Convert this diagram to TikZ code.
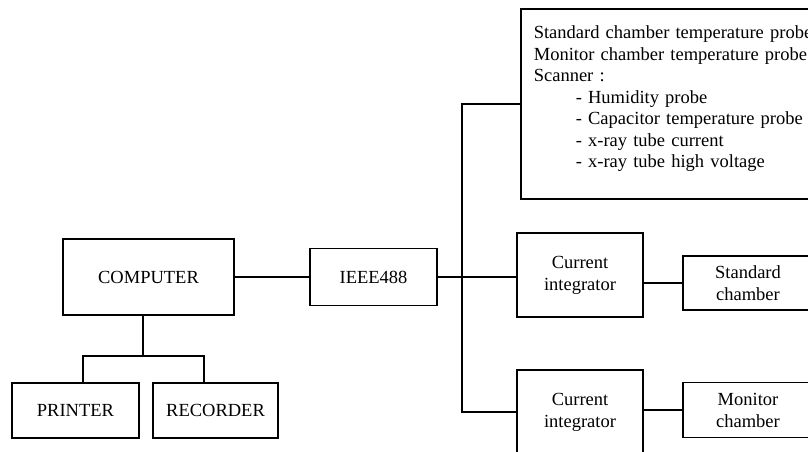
\documentclass[tikz,border=0pt]{standalone}
\usepackage{fontspec}
\setmainfont{Liberation Serif}
\begin{document}
\begin{tikzpicture}[x=1pt,y=-1pt,line width=1.6pt,
  blok/.style={draw,rectangle,inner sep=0pt,align=center,font=\fontsize{18.5pt}{22pt}\selectfont}]
\useasboundingbox (0,0) rectangle (808,452);
\clip (0,0) rectangle (808,452);
\node[blok,minimum width=171pt,minimum height=76pt] (comp) at (148.5,277) {COMPUTER};
\node[blok,minimum width=127pt,minimum height=57pt] (ieee) at (373.5,277) {IEEE488};
\node[blok,minimum width=127pt,minimum height=55pt] (printer) at (75.5,410.5) {PRINTER};
\node[blok,minimum width=125pt,minimum height=55pt] (recorder) at (215.5,410.5) {RECORDER};
\node[blok,anchor=west,align=left,text width=300pt,inner xsep=13pt,minimum height=190pt,
  font=\fontsize{18.5pt}{21.5pt}\selectfont] (probes) at (520,104)
  {Standard chamber temperature probe\\
   Monitor chamber temperature probe\\
   Scanner :\\
   \hspace*{42pt}- Humidity probe\\
   \hspace*{42pt}- Capacitor temperature probe\\
   \hspace*{42pt}- x-ray tube current\\
   \hspace*{42pt}- x-ray tube high voltage\\[-7pt]\mbox{}};
\node[blok,minimum width=126pt,minimum height=84pt] (intA) at (580,275) {Current\\integrator};
\node[blok,minimum width=126pt,minimum height=84pt] (intB) at (580,412) {Current\\integrator};
\node[blok,minimum width=130pt,minimum height=54pt] (stdch) at (748,283) {Standard\\chamber};
\node[blok,minimum width=130pt,minimum height=55pt] (monch) at (748,410) {Monitor\\chamber};

\coordinate (bus) at (462,0);
\coordinate (tap) at (143,356);
\coordinate (tapl) at (83,356);
\coordinate (tapr) at (204,356);

\draw (comp.east) -- (ieee.west);
\draw (ieee.east) -- (intA.west |- ieee.east);
\draw (probes.west) -| (bus |- intB.west) -- (intB.west);
\draw (intA.east |- stdch.west) -- (stdch.west);
\draw (intB.east |- monch.west) -- (monch.west);
\draw (tap |- comp.south) -- (tap);
\draw (tapl |- printer.north) -- (tapl) -- (tapr) -- (tapr |- recorder.north);
\end{tikzpicture}
\end{document}
